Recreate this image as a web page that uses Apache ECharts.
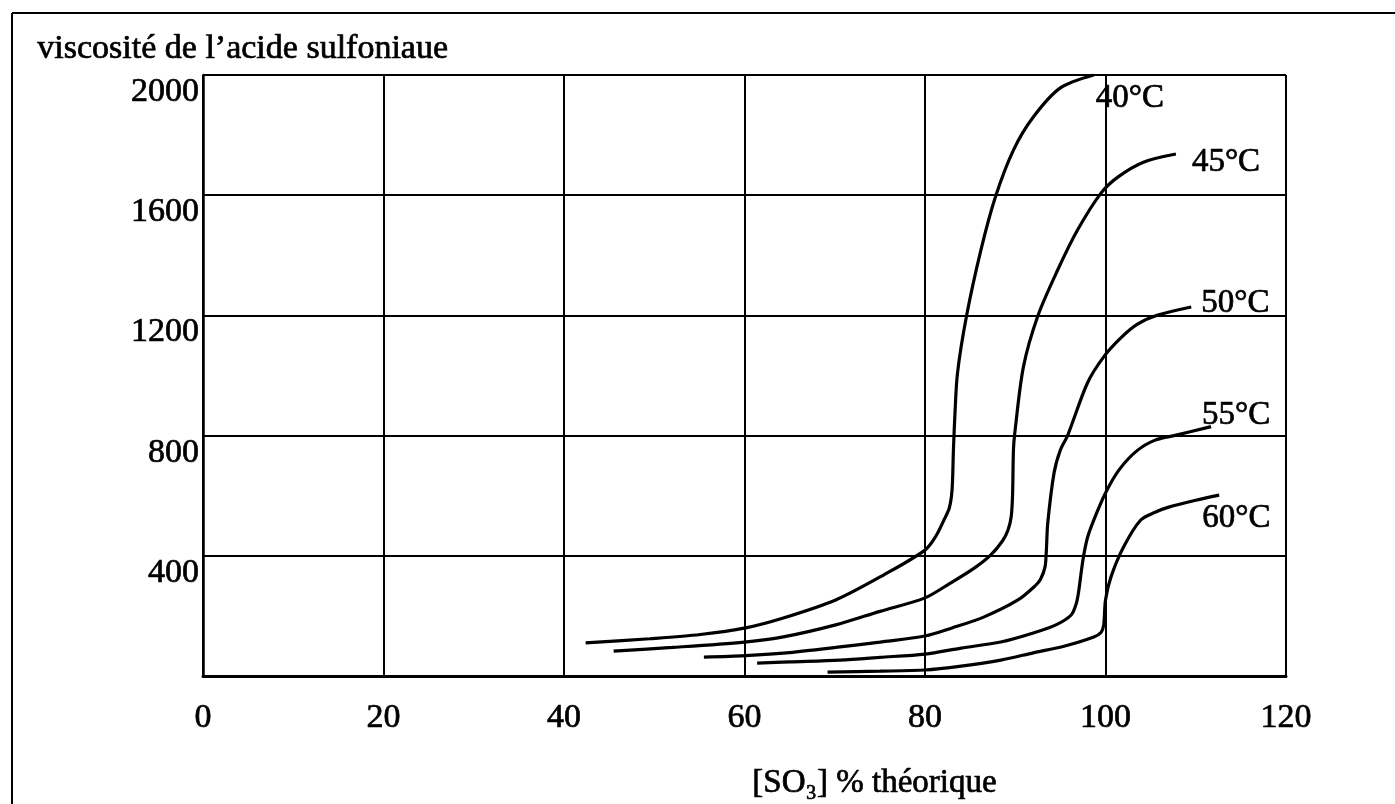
<!DOCTYPE html>
<html>
<head>
<meta charset="utf-8">
<script src="https://cdn.jsdelivr.net/npm/echarts@6/dist/echarts.min.js"></script>
<style>
html,body{margin:0;padding:0;background:#fff;}
#chart{width:1395px;height:804px;}
</style>
</head>
<body>
<div id="chart"></div>
<script>
// ---- data (x = [SO3] % théorique, y = viscosité) ----
const seriesNames = ['40°C', '45°C', '50°C', '55°C', '60°C'];
const curve40 = [[42.4,110],[49.5,124],[55.1,138],[60.1,160],[64.3,193],[70.1,253],[75.4,336],[80.0,419],[81.2,465],[82.1,519],[82.7,560],[83.0,620],[83.15,752],[83.3,860],[83.6,1008],[84.6,1198],[86.2,1418],[87.8,1594],[89.8,1750],[92.0,1860],[95.0,1957],[98.7,2000]];
const curve45 = [[45.5,83],[52.0,95],[60.0,113],[64.3,130],[70.1,170],[75.0,215],[80.0,260],[82.8,309],[85.5,360],[87.3,403],[88.6,450],[89.2,486],[89.55,530],[89.7,600],[89.8,752],[89.95,809],[90.9,1028],[92.5,1198],[94.7,1351],[96.9,1484],[99.5,1607],[101.4,1661],[104.2,1710],[107.8,1737]];
const curve50 = [[55.5,63],[60.1,68],[65.0,78],[70.1,95],[75.0,113],[80.0,133],[83.0,160],[86.5,196],[90.3,253],[92.2,300],[92.8,322],[93.3,363],[93.45,420],[93.6,509],[94.3,676],[95.0,752],[95.8,800],[98.0,975],[99.8,1062],[101.7,1125],[103.5,1170],[105.8,1201],[109.5,1228]];
const curve55 = [[61.4,43],[65.0,47],[70.6,53],[75.0,62],[80.0,73],[84.0,93],[88.4,113],[92.0,143],[94.5,170],[96.2,203],[96.75,240],[97.0,276],[97.5,386],[98.0,460],[98.7,519],[100.0,609],[101.5,686],[103.5,750],[105.5,785],[107.6,800],[111.7,830]];
const curve60 = [[69.2,13],[75.0,16],[80.0,20],[84.0,33],[88.4,53],[92.0,77],[95.5,100],[98.7,130],[99.5,145],[99.8,170],[100.0,253],[100.6,329],[102.0,429],[103.9,519],[105.5,545],[107.0,562],[110.0,585],[112.6,602]];
const curves = [curve40, curve45, curve50, curve55, curve60];
const xTicks = [0, 20, 40, 60, 80, 100, 120];
const yTicks = [400, 800, 1200, 1600, 2000];
const titleText = 'viscosité de l\u2019acide sulfoniaue';
const xAxisName = '[SO\u2083] % théorique';

// ---- styling ----
const FONT = '"Liberation Serif", "Times New Roman", "DejaVu Serif", serif';
const labelOffsets = [[-6, 23], [8, 8], [2, -4], [-17, -11], [-25, 23]];
const thick = {textBorderColor: '#000', textBorderWidth: 0.7};

const chart = echarts.init(document.getElementById('chart'), null, {renderer: 'canvas'});
chart.setOption({
  animation: false,
  backgroundColor: '#fff',
  grid: {left: 203, right: 109, top: 75, bottom: 128, containLabel: false},
  xAxis: {
    type: 'value', min: 0, max: 120, interval: 20,
    axisLine: {show: true, lineStyle: {color: '#000', width: 3}},
    axisTick: {show: false},
    splitLine: {show: true, lineStyle: {color: '#000', width: 2, type: 'solid'}},
    axisLabel: Object.assign({
      color: '#000', fontFamily: FONT, fontSize: 34, margin: 25,
      formatter: v => xTicks.includes(v) ? String(v) : ''
    }, thick)
  },
  yAxis: {
    type: 'value', min: 0, max: 2000, interval: 400,
    axisLine: {show: true, lineStyle: {color: '#000', width: 2.5}},
    axisTick: {show: false},
    splitLine: {show: true, lineStyle: {color: '#000', width: 2, type: 'solid'}},
    axisLabel: Object.assign({
      color: '#000', fontFamily: FONT, fontSize: 34, margin: 4, verticalAlign: 'top',
      formatter: v => yTicks.includes(v) ? String(v) : ''
    }, thick)
  },
  graphic: [
    {type: 'line', shape: {x1: 12, y1: 13, x2: 1395, y2: 13}, style: {stroke: '#000', lineWidth: 2}},
    {type: 'line', shape: {x1: 12, y1: 13, x2: 12, y2: 804}, style: {stroke: '#000', lineWidth: 2}},
    {type: 'text', left: 37, top: 32, style: {text: titleText, font: '34px ' + FONT, fill: '#000', stroke: '#000', lineWidth: 0.7}},
    {type: 'text', left: 752, top: 766, style: {text: xAxisName, font: '33px ' + FONT, fill: '#000', stroke: '#000', lineWidth: 0.7}}
  ],
  series: curves.map((d, i) => ({
    type: 'line', name: seriesNames[i], data: d,
    smooth: 0.3, showSymbol: false, symbol: 'none',
    lineStyle: {color: '#000', width: 3.2},
    endLabel: Object.assign({
      show: true, formatter: seriesNames[i], color: '#000',
      fontFamily: FONT, fontSize: 33, offset: labelOffsets[i]
    }, thick),
    emphasis: {disabled: true}
  }))
});
</script>
</body>
</html>
